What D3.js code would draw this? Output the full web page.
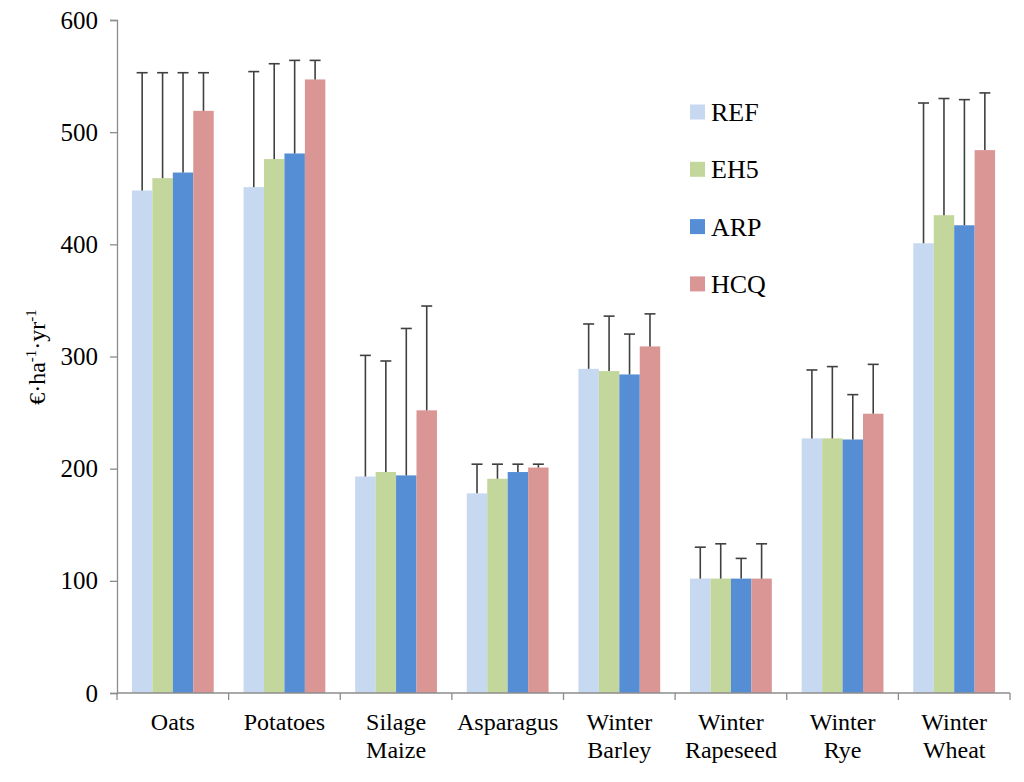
<!DOCTYPE html>
<html>
<head>
<meta charset="utf-8">
<script src="https://cdn.jsdelivr.net/npm/d3@7"></script>
<style>
  body { margin: 0; background: #fff; }
  svg text, svg tspan { font-family: "Liberation Serif", "Times New Roman", Times, "DejaVu Serif", serif !important; fill: #000; }
</style>
</head>
<body>
<div id="chart"></div>
<script>
// Data
const crops = [["Oats"], ["Potatoes"], ["Silage", "Maize"], ["Asparagus"], ["Winter", "Barley"],
  ["Winter", "Rapeseed"], ["Winter", "Rye"], ["Winter", "Wheat"]];
const scenarios = ["REF", "EH5", "ARP", "HCQ"];
const colors = ["#c6d9f1", "#c3d69b", "#558ed5", "#d99694"];

const refValues = [448, 451, 193, 178, 289, 102, 227, 401];
const eh5Values = [459, 476, 197, 191, 287, 102, 227, 426];
const arpValues = [464, 481, 194, 197, 284, 102, 226, 417];
const hcqValues = [519, 547, 252, 201, 309, 102, 249, 484];

const refUpper = [553, 554, 301, 204, 329, 130, 288, 526];
const eh5Upper = [553, 561, 296, 204, 336, 133, 291, 530];
const arpUpper = [553, 564, 325, 204, 320, 120, 266, 529];
const hcqUpper = [553, 564, 345, 204, 338, 133, 293, 535];

const yTicks = [0, 100, 200, 300, 400, 500, 600];

const values = [refValues, eh5Values, arpValues, hcqValues];
const uppers = [refUpper, eh5Upper, arpUpper, hcqUpper];

const W = 1024, H = 782;
const mLeft = 117, mRight = 1010, mTop = 20, mBottom = 693;
const serif = "'Liberation Serif', 'Times New Roman', Times, 'DejaVu Serif', serif";

const svg = d3.select("#chart").append("svg")
  .attr("width", W)
  .attr("height", H)
  .attr("font-family", serif);

// Scales
const x = d3.scaleBand()
  .domain(crops.map((d, i) => i))
  .range([mLeft, mRight])
  .paddingInner(0)
  .paddingOuter(0);

const xInner = d3.scaleBand()
  .domain(scenarios)
  .range([0, x.bandwidth()])
  .paddingOuter(0.73)
  .paddingInner(0);

const y = d3.scaleLinear()
  .domain([0, 600])
  .range([mBottom, mTop]);

// Flat rows for bars
const rows = [];
crops.forEach((c, i) => {
  scenarios.forEach((s, j) => {
    rows.push({ crop: i, s: s, j: j, v: values[j][i], up: uppers[j][i] });
  });
});

// Bars
svg.append("g").selectAll("rect")
  .data(rows)
  .enter().append("rect")
  .attr("x", d => x(d.crop) + xInner(d.s))
  .attr("width", xInner.bandwidth())
  .attr("y", d => y(d.v))
  .attr("height", d => y(0) - y(d.v))
  .attr("fill", d => colors[d.j]);

// Error bars
const err = svg.append("g").attr("stroke", "#404040").attr("stroke-width", 1.6);
rows.forEach(d => {
  const cx = x(d.crop) + xInner(d.s) + xInner.bandwidth() / 2;
  err.append("line").attr("x1", cx).attr("x2", cx).attr("y1", y(d.v)).attr("y2", y(d.up));
  err.append("line").attr("x1", cx - 5.5).attr("x2", cx + 5.5).attr("y1", y(d.up)).attr("y2", y(d.up));
});

// Y axis
const yAxis = svg.append("g")
  .attr("transform", "translate(" + mLeft + ",0)")
  .call(d3.axisLeft(y).tickValues(yTicks).tickSize(7).tickPadding(12))
  .attr("font-family", serif);
yAxis.select(".domain").attr("stroke", "#8c8c8c").attr("stroke-width", 1.3);
yAxis.selectAll(".tick line").attr("stroke", "#8c8c8c").attr("stroke-width", 1.3);
yAxis.selectAll(".tick text")
  .style("font-size", "25px")
  .attr("fill", "#000");

// X axis (line + ticks between categories)
const xAxis = svg.append("g");
xAxis.append("line")
  .attr("x1", mLeft).attr("x2", mRight)
  .attr("y1", y(0)).attr("y2", y(0))
  .attr("stroke", "#8c8c8c").attr("stroke-width", 1.3);
const edges = crops.map((c, i) => x(i)).concat([mRight]);
xAxis.selectAll(".xt")
  .data(edges)
  .enter().append("line")
  .attr("x1", d => d).attr("x2", d => d)
  .attr("y1", y(0)).attr("y2", y(0) + 7)
  .attr("stroke", "#8c8c8c").attr("stroke-width", 1.3);

// Category labels
const labels = xAxis.selectAll(".xl")
  .data(crops)
  .enter().append("text")
  .attr("text-anchor", "middle")
  .style("font-size", "24px")
  .attr("x", (d, i) => x(i) + x.bandwidth() / 2)
  .attr("y", 730);
labels.selectAll("tspan")
  .data(d => d)
  .enter().append("tspan")
  .attr("x", function() { return d3.select(this.parentNode).attr("x"); })
  .attr("dy", (d, k) => k === 0 ? 0 : 28)
  .text(d => d);

// Y axis title
const yt = svg.append("text")
  .attr("transform", "translate(45," + 357 + ") rotate(-90)")
  .attr("text-anchor", "middle")
  .style("font-size", "24px");
yt.append("tspan").text("€·ha");
yt.append("tspan").attr("dy", -9).style("font-size", "15px").text("-1");
yt.append("tspan").attr("dy", 9).text("·yr");
yt.append("tspan").attr("dy", -9).style("font-size", "15px").text("-1");

// Legend
const legend = svg.append("g").attr("transform", "translate(690,0)");
const lg = legend.selectAll("g")
  .data(scenarios)
  .enter().append("g")
  .attr("transform", (d, i) => "translate(0," + (112 + i * 57.3) + ")");
lg.append("rect")
  .attr("x", 0).attr("y", -7.5)
  .attr("width", 15).attr("height", 15)
  .attr("fill", (d, i) => colors[i]);
lg.append("text")
  .attr("x", 21).attr("y", 9)
  .style("font-size", "26px")
  .text(d => d);
</script>
</body>
</html>
